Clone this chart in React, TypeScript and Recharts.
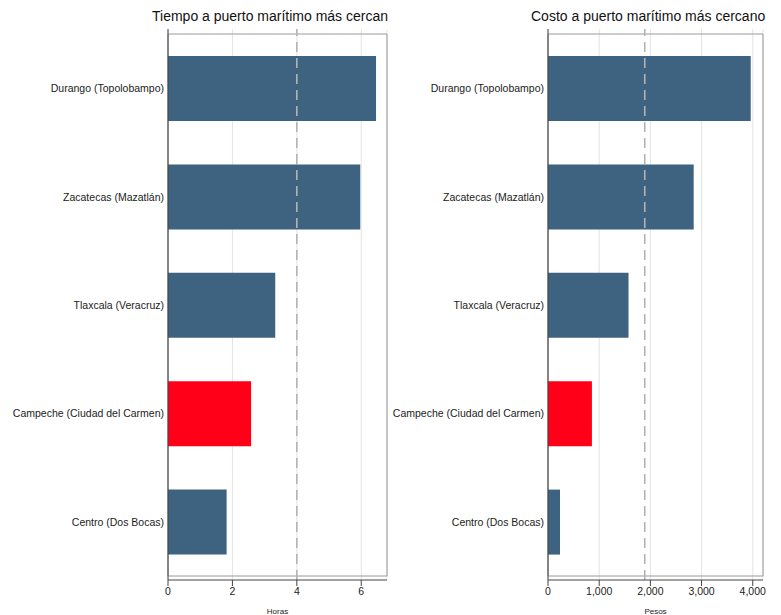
import React from 'react';
import { BarChart, Bar, XAxis, YAxis, CartesianGrid, ReferenceLine, ReferenceArea, Cell } from 'recharts';

const categories = [
  'Durango (Topolobampo)',
  'Zacatecas (Mazatlán)',
  'Tlaxcala (Veracruz)',
  'Campeche (Ciudad del Carmen)',
  'Centro (Dos Bocas)',
];
const horas = [6.46, 5.97, 3.33, 2.58, 1.82];
const pesos = [3960, 2846, 1573, 858, 234];
const highlight = 'Campeche (Ciudad del Carmen)';
const horasRef = 4;
const pesosRef = 1890;
const horasTicks = [0, 2, 4, 6];
const pesosTicks = [0, 1000, 2000, 3000, 4000];
const horasMax = 6.8;
const pesosMax = 4200;

const dataHoras = categories.map((c, i) => ({ name: c, value: horas[i] }));
const dataPesos = categories.map((c, i) => ({ name: c, value: pesos[i] }));

const FONT = "'Liberation Sans', Arial, Helvetica, sans-serif";
const BLUE = '#3d6380';
const RED = '#ff0018';

function CatTick(props: any) {
  const { x, y, payload } = props;
  return (
    <text x={x - 2} y={y} textAnchor="end" dominantBaseline="central" fontSize={10.5} fill="#222" fontFamily={FONT}>
      {payload.value}
    </text>
  );
}

function Panel({ data, max, ticks, refVal, label, fmt, width, marginRight }: any) {
  return (
    <BarChart
      width={width}
      height={615}
      data={data}
      layout="vertical"
      margin={{ top: 29, right: marginRight, left: 0, bottom: 0 }}
      barCategoryGap={0}
      style={{ fontFamily: FONT }}
    >
      <CartesianGrid vertical={true} horizontal={false} stroke="#e3e3e3" strokeWidth={1} />
      <ReferenceArea x1={0} x2={max} fill="none" stroke="#9a9a9a" strokeWidth={1} ifOverflow="extendDomain" />
      <XAxis
        type="number"
        domain={[0, max]}
        ticks={ticks}
        height={35}
        tickFormatter={fmt}
        axisLine={{ stroke: '#444' }}
        tickLine={{ stroke: '#444' }}
        tickSize={6}
        tick={{ fontSize: 10.5, fill: '#222' }}
        label={{ value: label, position: 'insideBottom', offset: 1, fontSize: 8, fill: '#222' }}
      />
      <YAxis
        type="category"
        dataKey="name"
        width={168}
        padding={{ top: 5, bottom: 4 }}
        axisLine={{ stroke: '#444' }}
        tickLine={false}
        tickSize={0}
        tick={<CatTick />}
        interval={0}
      />
      <ReferenceLine x={refVal} stroke="#b3b3b3" strokeWidth={1.6} strokeDasharray="10 6" />
      <Bar dataKey="value" barSize={65} isAnimationActive={false}>
        {data.map((d: any) => (
          <Cell key={d.name} fill={d.name === highlight ? RED : BLUE} />
        ))}
      </Bar>
    </BarChart>
  );
}

export default function App() {
  const titleStyle: React.CSSProperties = {
    position: 'absolute',
    top: 8,
    fontFamily: FONT,
    fontSize: 14,
    lineHeight: '16px',
    color: '#111',
    whiteSpace: 'nowrap',
  };
  return (
    <div style={{ position: 'absolute', left: 0, top: 0, width: 781, height: 615, background: '#fff', overflow: 'hidden' }}>
      <div style={{ position: 'absolute', left: 0, top: 0 }}>
        <Panel data={dataHoras} max={horasMax} ticks={horasTicks} refVal={horasRef} label="Horas"
          fmt={(v: number) => String(v)} width={390} marginRight={3} />
      </div>
      <div style={{ position: 'absolute', left: 380, top: 0 }}>
        <Panel data={dataPesos} max={pesosMax} ticks={pesosTicks} refVal={pesosRef} label="Pesos"
          fmt={(v: number) => v.toLocaleString('en-US')} width={401} marginRight={18} />
      </div>
      <div style={{ ...titleStyle, left: 152 }}>Tiempo a puerto marítimo más cercan</div>
      <div style={{ ...titleStyle, left: 531 }}>Costo a puerto marítimo más cercano</div>
    </div>
  );
}
